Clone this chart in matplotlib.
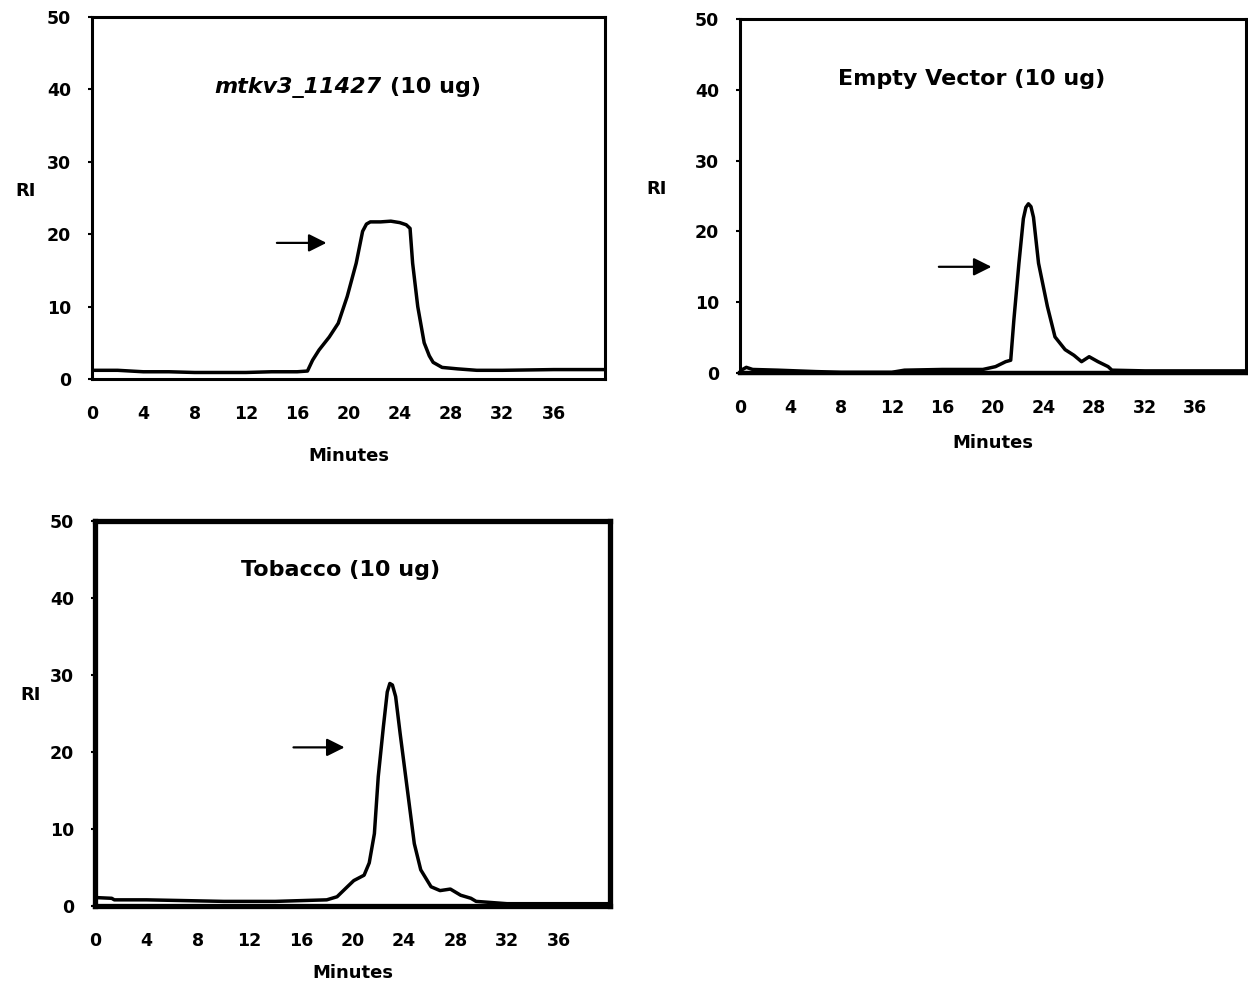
import numpy as np
import matplotlib
matplotlib.use("Agg")
import matplotlib.pyplot as plt

plt.rcParams['font.family'] = ['DejaVu Sans']
plt.rcParams['font.weight'] = 'bold'

# mtkv3_11427 (10 ug)
t1 = [0, 2, 4, 6, 8, 10, 12, 14, 16, 16.8, 17.2, 17.7, 18.5, 19.2, 19.9, 20.6, 21.1, 21.4, 21.7,
      22.5, 23.3, 24.0, 24.5, 24.8, 25.0, 25.4, 25.9, 26.3, 26.6, 27.3, 28.5, 30, 32, 36, 40]
ri1 = [1.2, 1.2, 1.0, 1.0, 0.9, 0.9, 0.9, 1.0, 1.0, 1.1, 2.6, 4.0, 5.8, 7.7, 11.4, 16.0, 20.4, 21.4, 21.7,
       21.7, 21.8, 21.6, 21.3, 20.8, 16.0, 10.0, 5.0, 3.2, 2.3, 1.6, 1.4, 1.2, 1.2, 1.3, 1.3]

# Empty Vector (10 ug)
t2 = [0, 0.5, 1, 3, 6, 8, 10, 12, 13, 16, 19.2, 20.2, 21.0, 21.4, 21.65, 22.05, 22.4, 22.6, 22.8,
      23.0, 23.2, 23.6, 24.3, 24.9, 25.7, 26.4, 27.0, 27.6, 28.3, 29.1, 29.4, 32, 36, 40]
ri2 = [0.3, 0.8, 0.5, 0.4, 0.2, 0.1, 0.1, 0.1, 0.4, 0.5, 0.5, 0.9, 1.6, 1.8, 7.5, 15.5, 21.8, 23.4, 23.9,
       23.5, 22.0, 15.5, 9.4, 5.1, 3.3, 2.5, 1.6, 2.3, 1.6, 0.9, 0.4, 0.3, 0.3, 0.3]

# Tobacco (10 ug)
t3 = [0, 1.3, 1.5, 4, 7, 10, 14, 18.0, 18.8, 19.6, 20.1, 20.9, 21.3, 21.7, 22.0, 22.4, 22.7,
      22.9, 23.1, 23.35, 23.7, 24.3, 24.8, 25.3, 26.1, 26.8, 27.6, 28.4, 29.2, 29.6, 32, 36, 40]
ri3 = [1.1, 1.0, 0.8, 0.8, 0.7, 0.6, 0.6, 0.8, 1.2, 2.5, 3.3, 4.0, 5.6, 9.4, 16.8, 23.3, 27.8,
       28.9, 28.7, 27.2, 22.4, 14.6, 8.1, 4.7, 2.5, 2.0, 2.2, 1.4, 1.0, 0.6, 0.3, 0.3, 0.3]

xticks = np.arange(0, 40, 4)
yticks = np.arange(0, 60, 10)

W, H = 1248, 981
fig = plt.figure(figsize=(W / 100, H / 100), dpi=100)


def px_axes(l, t, r, b):
    return fig.add_axes([l / W, 1 - b / H, (r - l) / W, (b - t) / H])


def style(ax, spine_w, label_x, label_pad):
    ax.set_xlim(0, 40)
    ax.set_ylim(0, 50)
    ax.set_xticks(xticks)
    ax.set_yticks(yticks)
    ax.tick_params(axis='y', direction='out', length=3, width=1.5, pad=12, labelsize=12.5)
    ax.tick_params(axis='x', length=0, pad=19, labelsize=12.5)
    for s in ax.spines.values():
        s.set_linewidth(spine_w)
    ax.set_xlabel('Minutes', fontsize=13, fontweight='bold', labelpad=label_pad)
    ax.set_ylabel('RI', fontsize=13, fontweight='bold', rotation=0, va='center', ha='center')
    ax.yaxis.set_label_coords(label_x, 0.52)


def arrow(ax, x0, x1, y):
    ax.annotate('', xy=(x1, y), xytext=(x0, y),
                arrowprops=dict(arrowstyle='-|>', lw=1.6, color='black', mutation_scale=27))


# panel 1
ax1 = px_axes(92, 17, 605, 379)
ax1.plot(t1, ri1, color='black', lw=2.5, solid_joinstyle='round')
style(ax1, 2.2, -0.13, 17)
ax1.text(22.6, 40.3, 'mtkv3_11427', style='italic', fontweight='bold', fontsize=16, ha='right', va='center')
ax1.text(23.2, 40.3, '(10 ug)', fontweight='bold', fontsize=16, ha='left', va='center')
arrow(ax1, 14.2, 18.5, 18.8)

# panel 2
ax2 = px_axes(740, 19, 1246, 373)
ax2.plot(t2, ri2, color='black', lw=2.5, solid_joinstyle='round')
style(ax2, 2.2, -0.164, 12)
ax2.spines['bottom'].set_linewidth(3.2)
ax2.text(18.3, 41.5, 'Empty Vector (10 ug)', fontweight='bold', fontsize=16, ha='center', va='center')
arrow(ax2, 15.5, 20.1, 15.0)

# panel 3
ax3 = px_axes(95, 521, 610, 906)
ax3.plot(t3, ri3, color='black', lw=2.5, solid_joinstyle='round')
style(ax3, 3.8, -0.126, 10)
ax3.yaxis.set_label_coords(-0.126, 0.548)
ax3.text(19.1, 43.6, 'Tobacco (10 ug)', fontweight='bold', fontsize=16, ha='center', va='center')
arrow(ax3, 15.2, 19.6, 20.6)

fig.savefig('out.png', dpi=100)
